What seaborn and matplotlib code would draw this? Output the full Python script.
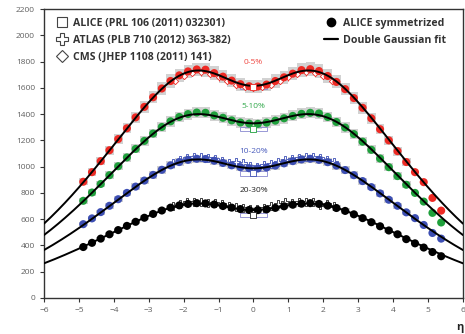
import numpy as np
import pandas as pd
import matplotlib
matplotlib.use("Agg")
import matplotlib.pyplot as plt
import seaborn as sns
from matplotlib.lines import Line2D
from matplotlib.patches import Rectangle

# ---------------- data ----------------
eta = [-4.875, -4.625, -4.375, -4.125, -3.875, -3.625, -3.375, -3.125, -2.875, -2.625,
       -2.375, -2.125, -1.875, -1.625, -1.375, -1.125, -0.875, -0.625, -0.375, -0.125,
       0.125, 0.375, 0.625, 0.875, 1.125, 1.375, 1.625, 1.875, 2.125, 2.375,
       2.625, 2.875, 3.125, 3.375, 3.625, 3.875, 4.125, 4.375, 4.625, 4.875,
       5.125, 5.375]

c0_5 = [885, 958, 1042, 1125, 1210, 1292, 1375, 1455, 1528, 1595,
        1652, 1695, 1725, 1740, 1738, 1712, 1685, 1655, 1628, 1612,
        1610, 1625, 1652, 1680, 1708, 1735, 1742, 1728, 1690, 1645,
        1590, 1522, 1448, 1368, 1285, 1200, 1118, 1035, 958, 882,
        762, 665]
c5_10 = [740, 803, 868, 935, 1003, 1070, 1135, 1196, 1252, 1302,
         1345, 1378, 1400, 1412, 1410, 1390, 1372, 1352, 1336, 1328,
         1326, 1335, 1350, 1368, 1386, 1402, 1410, 1405, 1378, 1340,
         1298, 1248, 1190, 1128, 1062, 996, 928, 862, 800, 734,
         648, 575]
c10_20 = [562, 606, 654, 702, 752, 800, 848, 894, 937, 976,
          1010, 1035, 1052, 1060, 1058, 1045, 1028, 1010, 996, 988,
          986, 994, 1008, 1025, 1042, 1055, 1060, 1052, 1034, 1008,
          974, 935, 890, 844, 796, 748, 702, 652, 608, 556,
          495, 452]
c20_30 = [388, 420, 452, 485, 517, 549, 580, 611, 640, 666,
          688, 705, 716, 722, 720, 712, 700, 688, 677, 670,
          669, 675, 686, 698, 710, 718, 722, 716, 703, 685,
          663, 637, 608, 577, 546, 514, 485, 448, 416, 384,
          350, 318]

centralities = ["0-5%", "5-10%", "10-20%", "20-30%"]
colors = ["#ee2a24", "#1fa03c", "#3d4fb4", "#000000"]
label_colors = ["#f04a44", "#30a84a", "#4a5cbc", "#222222"]

# double Gaussian fit parameters: A1, sigma1, A2, sigma2
fit_A1 = [2078, 1703, 1255.5, 839.6]
fit_s1 = [3.72, 3.767, 3.817, 3.943]
fit_A2 = [463, 373, 268.5, 169.6]
fit_s2 = [1.105, 1.212, 1.110, 1.051]

# ALICE PRL 106 (2011) 032301 at eta = 0
alice_prl = [1608, 1286, 949, 632]

# ATLAS PLB 710 (2012) points (10-20% and 20-30%)
atlas_eta = [-2.3, -2.1, -1.9, -1.7, -1.5, -1.3, -1.1, -0.9, -0.7, -0.5, -0.3, -0.1,
             0.1, 0.3, 0.5, 0.7, 0.9, 1.1, 1.3, 1.5, 1.7, 1.9, 2.1, 2.3]
atlas_10_20 = [1030, 1050, 1066, 1072, 1070, 1066, 1057, 1045, 1030, 1037, 1025, 1005,
               1000, 1012, 1020, 1032, 1050, 1055, 1068, 1072, 1070, 1063, 1050, 1032]
atlas_20_30 = [700, 716, 728, 733, 732, 726, 720, 712, 700, 692, 683, 678,
               676, 688, 700, 715, 728, 720, 730, 734, 730, 708, 715, 702]

# CMS JHEP 1108 (2011) 141 points (0-5%)
cms_eta = [-2.25, -2.0, -1.75, -1.5, -1.25, -1.0, -0.75, -0.5, -0.25, 0.0,
           0.25, 0.5, 0.75, 1.0, 1.25, 1.5, 1.75, 2.0, 2.25]
cms_0_5 = [1655, 1690, 1712, 1718, 1705, 1680, 1652, 1625, 1605, 1598,
           1605, 1625, 1652, 1680, 1705, 1718, 1712, 1690, 1655]

series = [c0_5, c5_10, c10_20, c20_30]

# ---------------- figure ----------------
sns.set_style("ticks")
plt.rcParams["font.family"] = ["Open Sans", "DejaVu Sans"]

fig = plt.figure(figsize=(4.65, 3.34), dpi=100)
ax = fig.add_axes([0.0946, 0.1078, 0.9011, 0.8652])

# systematic boxes
for vals in series:
    e = np.array(eta)
    v = np.array(vals, dtype=float)
    m = e < 4.5
    err = 0.03 * v[m]
    ax.bar(e[m], 2 * err, bottom=v[m] - err, width=0.25, color="#d2d2d2",
           edgecolor="none", zorder=1)

# fit lines
grid = np.linspace(-6, 6, 241)
for i, cen in enumerate(centralities):
    fit = fit_A1[i] * np.exp(-grid**2 / (2 * fit_s1[i]**2)) - \
          fit_A2[i] * np.exp(-grid**2 / (2 * fit_s2[i]**2))
    dfl = pd.DataFrame({"eta": grid, "fit": fit})
    sns.lineplot(data=dfl, x="eta", y="fit", color="black", linewidth=1.4,
                 ax=ax, zorder=5, legend=False)

# ATLAS crosses
for vals, col in [(atlas_10_20, colors[2]), (atlas_20_30, "#222222")]:
    ax.scatter(atlas_eta, vals, marker="P", s=34, facecolor="white",
               edgecolor=col, linewidth=0.6, zorder=3)

# CMS diamonds
ax.errorbar(cms_eta, cms_0_5, yerr=25, fmt="D", ms=3.2, mfc="white",
            mec=colors[0], mew=0.6, ecolor=colors[0], elinewidth=0.6, zorder=3)

# ALICE symmetrized points
for i, (cen, vals) in enumerate(zip(centralities, series)):
    dfp = pd.DataFrame({"eta": eta, "dndeta": vals})
    sns.scatterplot(data=dfp, x="eta", y="dndeta", color=colors[i], s=34,
                    edgecolor="none", ax=ax, zorder=4, legend=False)

# ALICE PRL squares at eta=0 with boxes
for i, v in enumerate(alice_prl):
    ax.add_patch(Rectangle((-0.4, v - 18), 0.8, 36, fill=False,
                           edgecolor="#8888d0", linewidth=0.6, zorder=3))
    ax.scatter([0.0], [v], marker="s", s=20, facecolor="white",
               edgecolor=colors[i] if i < 3 else "#222222", linewidth=0.6, zorder=6)

# centrality labels
label_y = [1796, 1455, 1113, 817]
for i, cen in enumerate(centralities):
    ax.text(0, label_y[i], cen, color=label_colors[i], fontsize=6, ha="center",
            va="center", zorder=7)

# axes
ax.set_xlim(-6, 6)
ax.set_ylim(0, 2200)
ax.set_xticks(range(-6, 7))
ax.set_yticks(range(0, 2201, 200))
ax.tick_params(axis="both", labelsize=6, labelcolor="#606060", color="#333333",
               direction="out", length=3, width=0.8)
for s in ax.spines.values():
    s.set_color("#333333")
    s.set_linewidth(1.0)
ax.set_xlabel("η", loc="right", fontsize=8, fontweight="bold", color="#222222",
              labelpad=6)
ax.set_ylabel("")

# legends
h1 = [Line2D([], [], marker="s", ls="none", mfc="white", mec="#444444", ms=7.5, mew=0.8),
      Line2D([], [], marker="P", ls="none", mfc="white", mec="#444444", ms=9, mew=0.8),
      Line2D([], [], marker="D", ls="none", mfc="white", mec="#444444", ms=6, mew=0.8)]
l1 = ["ALICE (PRL 106 (2011) 032301)", "ATLAS (PLB 710 (2012) 363-382)",
      "CMS (JHEP 1108 (2011) 141)"]
leg1 = ax.legend(h1, l1, loc="upper left", frameon=False, handlelength=1.0,
                 handletextpad=0.6, labelspacing=0.55, borderaxespad=0.45,
                 bbox_to_anchor=(0.008, 1.0),
                 prop={"size": 7.6, "weight": "bold"}, labelcolor="#333333")
ax.add_artist(leg1)
h2 = [Line2D([], [], marker="o", ls="none", mfc="black", mec="black", ms=6),
      Line2D([], [], color="black", lw=1.6)]
l2 = ["ALICE symmetrized", "Double Gaussian fit"]
ax.legend(h2, l2, loc="upper right", frameon=False, handlelength=1.3,
          handletextpad=0.5, labelspacing=0.55, borderaxespad=0.45,
          bbox_to_anchor=(0.982, 1.0),
          prop={"size": 7.6, "weight": "bold"}, labelcolor="#333333")

fig.savefig("out.png", dpi=100)
